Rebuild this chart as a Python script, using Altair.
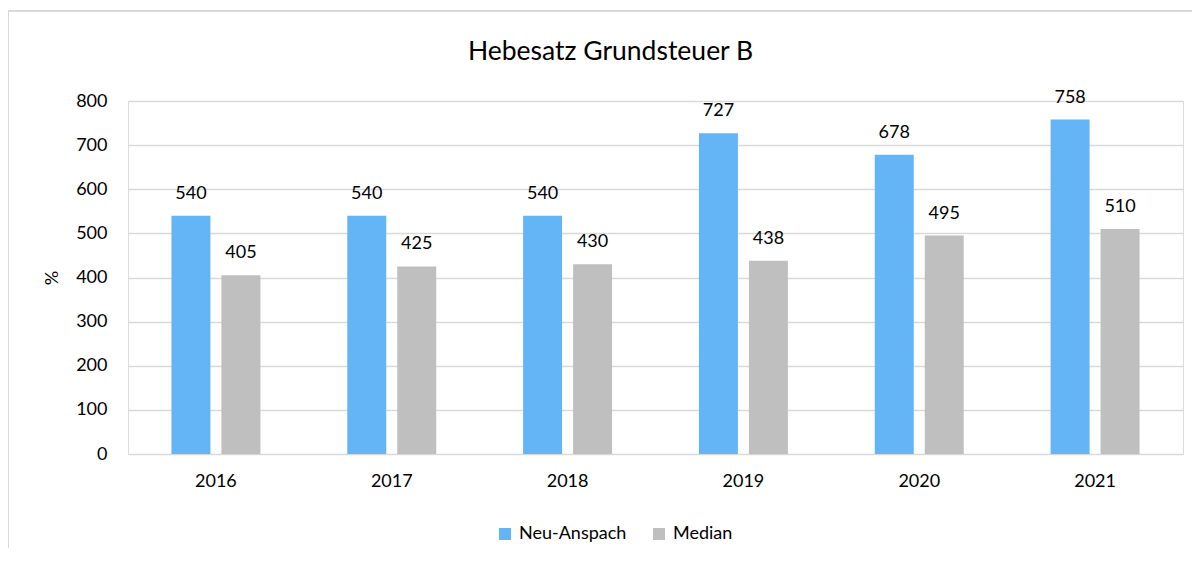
import altair as alt
import pandas as pd

years = ["2016", "2017", "2018", "2019", "2020", "2021"]
neu_anspach = [540, 540, 540, 727, 678, 758]
median = [405, 425, 430, 438, 495, 510]
series_names = ["Neu-Anspach", "Median"]
series_colors = ["#63B5F6", "#BFBFBF"]
y_ticks = [0, 100, 200, 300, 400, 500, 600, 700, 800]

rows = []
for i, y in enumerate(years):
    rows.append({"year": y, "series": series_names[0], "value": neu_anspach[i]})
    rows.append({"year": y, "series": series_names[1], "value": median[i]})
df = pd.DataFrame(rows)

FONT = "Lato"
W, H = 1055, 353

x_enc = alt.X("year:N", sort=years,
              scale=alt.Scale(paddingInner=0.494, paddingOuter=0.247),
              axis=alt.Axis(title=None, labelAngle=0, ticks=False, domain=False,
                            labelFontSize=18, labelPadding=18, labelColor="#000000",
                            labelFont=FONT, grid=False))
xoff_enc = alt.XOffset("series:N", sort=series_names,
                       scale=alt.Scale(paddingInner=0.22, paddingOuter=0))
y_enc = alt.Y("value:Q", scale=alt.Scale(domain=[0, 800], nice=False),
              axis=alt.Axis(values=y_ticks, title="%", titleFontSize=18, titleFont=FONT,
                            titleFontWeight="normal", titleColor="#000000", titlePadding=14,
                            labelFontSize=18, labelFont=FONT, labelColor="#000000",
                            labelPadding=21, ticks=False, domain=False,
                            grid=True, gridColor="#D9D9D9", gridWidth=1.5))

base = alt.Chart(df)

bars = base.mark_bar().encode(
    x=x_enc,
    xOffset=xoff_enc,
    y=y_enc,
    color=alt.Color("series:N", sort=series_names,
                    scale=alt.Scale(domain=series_names, range=series_colors),
                    legend=alt.Legend(title=None, orient="none", legendX=368, legendY=424,
                                      direction="horizontal", symbolType="square",
                                      symbolSize=144, symbolStrokeWidth=0,
                                      labelFontSize=18, labelFont=FONT, labelColor="#000000",
                                      labelOffset=5, columnPadding=23)),
)

labels = base.mark_text(fontSize=18, font=FONT, color="#000000", baseline="alphabetic",
                        dy=-17).encode(
    x=x_enc,
    xOffset=xoff_enc,
    y=y_enc,
    text=alt.Text("value:Q"),
)

frame_df = pd.DataFrame({"k": [0]})
top_line = alt.Chart(frame_df).mark_rule(color="#D9D9D9", strokeWidth=2).encode(
    x=alt.value(-120), x2=alt.value(1070), y=alt.value(-90))
left_line = alt.Chart(frame_df).mark_rule(color="#D9D9D9", strokeWidth=2).encode(
    x=alt.value(-120), y=alt.value(-90), y2=alt.value(460))

chart = alt.layer(top_line, left_line, bars, labels).properties(
    width=W, height=H,
    title=alt.TitleParams("Hebesatz Grundsteuer B", fontSize=26.5, font=FONT,
                          fontWeight="normal", color="#000000", anchor="middle",
                          dx=-45, offset=-55),
    autosize=alt.AutoSizeParams(type="none"),
    padding={"left": 120, "top": 93, "right": 9, "bottom": 94},
).configure_view(stroke=None).configure(background="white")

chart.save("out.html", embed_options={"renderer": "svg", "actions": False})
